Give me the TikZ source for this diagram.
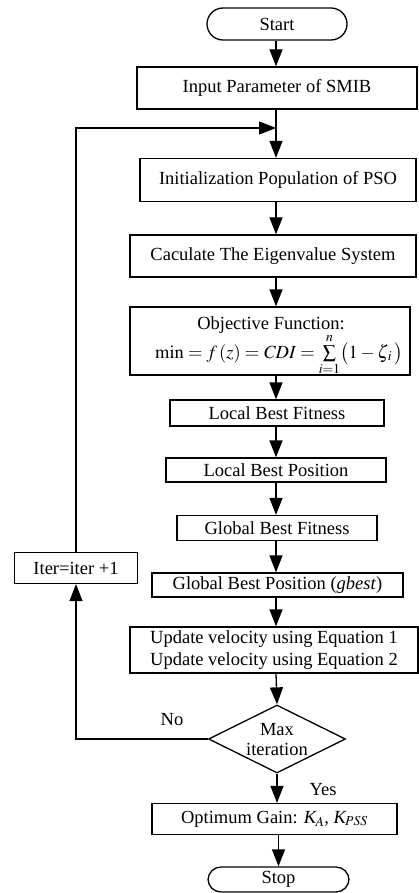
\documentclass[tikz,border=0pt]{standalone}
\usepackage{mathptmx}
\usepackage{fontspec}
\setmainfont{Liberation Serif}
\usetikzlibrary{arrows.meta,shapes.geometric}
\begin{document}
\begin{tikzpicture}[x=1pt,y=-1pt,
  every node/.style={font=\fontsize{18.5}{21}\selectfont},
  box/.style={draw,line width=1.3pt,inner sep=0pt,align=center},
  term/.style={box,rounded corners=13pt},
  arr/.style={line width=1.3pt,-{Triangle[length=17pt,width=13pt]}},
  ln/.style={line width=1.3pt}]
\useasboundingbox (0,0) rectangle (419,893);
\coordinate (m) at (276,0);
\node[term,minimum width=140,minimum height=32,rounded corners=16pt] (start) at (277,24) {Start};
\node[box,minimum width=280,minimum height=42] (input) at (277,88) {Input Parameter of SMIB};
\node[box,minimum width=276,minimum height=43] (init) at (278,180) {Initialization Population of PSO};
\node[box,minimum width=286,minimum height=42] (calc) at (273,256) {Caculate The Eigenvalue System};
\node[box,minimum width=280,minimum height=68] (obj) at (270,341) {};
\node[align=center,anchor=north,inner sep=0pt,font=\fontsize{18.5}{20}\selectfont] (objt) at (275,316) {\hspace*{-8pt}Objective Function:\\\hspace*{8pt}$\min = f\,(z) = \mathit{CDI} = \sum\limits_{i=1}^{n}\bigl(1-\zeta_{\,i}\,\bigr)$};
\node[box,minimum width=214,minimum height=26] (lbf) at (277,413) {Local Best Fitness};
\node[box,minimum width=220,minimum height=24] (lbp) at (276,470) {Local Best Position};
\node[box,minimum width=200,minimum height=25] (gbf) at (277,528) {Global Best Fitness};
\node[box,minimum width=123,minimum height=31] (iter) at (76,568) {Iter=iter +1};
\node[box,minimum width=251,minimum height=24] (gbp) at (277.5,585) {Global Best Position (\textit{gbest})};
\node[box,minimum width=288,minimum height=46,font=\fontsize{18.5}{22}\selectfont] (upd) at (274,650) {Update velocity using Equation 1\\Update velocity using Equation 2};
\node[draw,diamond,line width=1.3pt,minimum width=137,minimum height=68,inner sep=0pt] (dia) at (277,739) {};
\node[align=center,font=\fontsize{18.5}{20}\selectfont] (diat) at (277,740) {Max\\iteration};
\node[box,minimum width=245,minimum height=31] (opt) at (274.5,819) {Optimum Gain: \textit{K}$_{\!A}$, \textit{K}$_{\!\mathit{PSS}}$};
\node[term,minimum width=141,minimum height=25] (stop) at (278.5,879.5) {Stop};
\node (no) at (172,720) {No};
\node (yes) at (323,790) {Yes};
\coordinate (merge) at (276,128);
\draw[arr] (start.south -| m) -- (input.north -| m);
\draw[arr] (input.south -| m) -- (init.north -| m);
\draw[arr] (init.south -| m) -- (calc.north -| m);
\draw[arr] (calc.south -| m) -- (obj.north -| m);
\draw[arr] (obj.south -| m) -- (lbf.north -| m);
\draw[arr] (lbf.south -| m) -- (lbp.north -| m);
\draw[arr] (lbp.south -| m) -- (gbf.north -| m);
\draw[arr] (gbf.south -| m) -- (gbp.north -| m);
\draw[arr] (gbp.south -| m) -- (upd.north -| m);
\draw[arr] (upd.south -| m) -- (dia.north);
\draw[arr] (dia.south) -- (opt.north -| dia.south);
\draw[arr] (opt.south -| stop.north) -- (stop.north);
\draw[arr] (dia.west) -| (iter.south);
\draw[arr] (iter.north) |- (merge);
\end{tikzpicture}
\end{document}
